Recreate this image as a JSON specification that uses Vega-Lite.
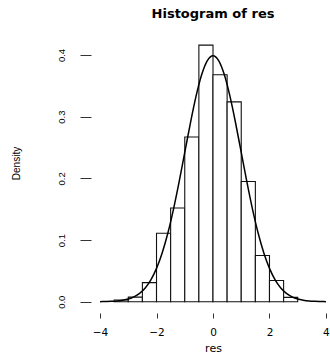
{
  "$schema": "https://vega.github.io/schema/vega-lite/v6.json",
  "autosize": {"type": "none"},
  "padding": {"left": 91, "top": 35, "right": 0, "bottom": 42},
  "width": 244,
  "height": 278,
  "background": "white",
  "config": {"view": {"stroke": null}, "font": "Liberation Sans"},
  "title": {
    "text": "Histogram of res",
    "font": "DejaVu Sans",
    "fontSize": 13,
    "fontWeight": "bold",
    "color": "black",
    "anchor": "middle",
    "frame": "group",
    "baseline": "alphabetic",
    "offset": 4
  },
  "datasets": {
    "bins": [
      {"bin_start": -3.5, "bin_end": -3.0, "density": 0.0027},
      {"bin_start": -3.0, "bin_end": -2.5, "density": 0.0075},
      {"bin_start": -2.5, "bin_end": -2.0, "density": 0.031},
      {"bin_start": -2.0, "bin_end": -1.5, "density": 0.111},
      {"bin_start": -1.5, "bin_end": -1.0, "density": 0.152},
      {"bin_start": -1.0, "bin_end": -0.5, "density": 0.267},
      {"bin_start": -0.5, "bin_end": 0.0, "density": 0.416},
      {"bin_start": 0.0, "bin_end": 0.5, "density": 0.368},
      {"bin_start": 0.5, "bin_end": 1.0, "density": 0.324},
      {"bin_start": 1.0, "bin_end": 1.5, "density": 0.195},
      {"bin_start": 1.5, "bin_end": 2.0, "density": 0.075},
      {"bin_start": 2.0, "bin_end": 2.5, "density": 0.0345},
      {"bin_start": 2.5, "bin_end": 3.0, "density": 0.007}
    ],
    "curve": [
      {"x": -4.0, "y": 0.0001}, {"x": -3.8, "y": 0.0003}, {"x": -3.6, "y": 0.0006},
      {"x": -3.4, "y": 0.0012}, {"x": -3.2, "y": 0.0024}, {"x": -3.0, "y": 0.0044},
      {"x": -2.8, "y": 0.0079}, {"x": -2.6, "y": 0.0136}, {"x": -2.4, "y": 0.0224},
      {"x": -2.2, "y": 0.0355}, {"x": -2.0, "y": 0.0540}, {"x": -1.8, "y": 0.0790},
      {"x": -1.6, "y": 0.1109}, {"x": -1.4, "y": 0.1497}, {"x": -1.2, "y": 0.1942},
      {"x": -1.0, "y": 0.2420}, {"x": -0.8, "y": 0.2897}, {"x": -0.6, "y": 0.3332},
      {"x": -0.4, "y": 0.3683}, {"x": -0.2, "y": 0.3910}, {"x": 0.0, "y": 0.3989},
      {"x": 0.2, "y": 0.3910}, {"x": 0.4, "y": 0.3683}, {"x": 0.6, "y": 0.3332},
      {"x": 0.8, "y": 0.2897}, {"x": 1.0, "y": 0.2420}, {"x": 1.2, "y": 0.1942},
      {"x": 1.4, "y": 0.1497}, {"x": 1.6, "y": 0.1109}, {"x": 1.8, "y": 0.0790},
      {"x": 2.0, "y": 0.0540}, {"x": 2.2, "y": 0.0355}, {"x": 2.4, "y": 0.0224},
      {"x": 2.6, "y": 0.0136}, {"x": 2.8, "y": 0.0079}, {"x": 3.0, "y": 0.0044},
      {"x": 3.2, "y": 0.0024}, {"x": 3.4, "y": 0.0012}, {"x": 3.6, "y": 0.0006},
      {"x": 3.8, "y": 0.0003}, {"x": 4.0, "y": 0.0001}
    ]
  },
  "layer": [
    {
      "data": {"name": "bins"},
      "mark": {"type": "rect", "fill": "white", "stroke": "#111", "strokeWidth": 1.1},
      "encoding": {
        "x": {
          "field": "bin_start", "type": "quantitative",
          "scale": {"domain": [-4.32, 4.32], "nice": false, "zero": false},
          "axis": {
            "title": "res",
            "values": [-4, -2, 0, 2, 4],
            "format": "d",
            "domain": false,
            "grid": false,
            "tickSize": 5,
            "tickColor": "#333",
            "labelFont": "DejaVu Sans",
            "labelFontSize": 10.5,
            "labelColor": "black",
            "labelBaseline": "top",
            "labelPadding": 9,
            "titleFont": "DejaVu Sans",
            "titleFontSize": 11,
            "titleFontWeight": "normal",
            "titleColor": "black",
            "titleBaseline": "alphabetic",
            "titleY": 38.5
          }
        },
        "x2": {"field": "bin_end"},
        "y": {
          "field": "density", "type": "quantitative",
          "scale": {"domain": [-0.0183, 0.4324], "nice": false, "zero": false},
          "axis": {
            "title": "Density",
            "values": [0, 0.1, 0.2, 0.3, 0.4],
            "format": ".1f",
            "domain": false,
            "grid": false,
            "tickSize": 11,
            "tickColor": "#333",
            "labelFontSize": 9.5,
            "labelColor": "black",
            "labelAngle": -90,
            "labelAlign": "center",
            "labelBaseline": "alphabetic",
            "labelPadding": 15.5,
            "titleFontSize": 10,
            "titleFontWeight": "normal",
            "titleColor": "black",
            "titleAngle": -90,
            "titleAlign": "center",
            "titleBaseline": "alphabetic",
            "titleX": -71.5,
            "titleY": 128
          }
        },
        "y2": {"datum": 0}
      }
    },
    {
      "data": {"name": "curve"},
      "mark": {"type": "line", "color": "black", "strokeWidth": 1.5, "interpolate": "monotone"},
      "encoding": {
        "x": {"field": "x", "type": "quantitative"},
        "y": {"field": "y", "type": "quantitative"}
      }
    },
    {
      "mark": {"type": "rule", "color": "#333", "strokeWidth": 1},
      "encoding": {
        "x": {"datum": -4},
        "x2": {"datum": 4},
        "y": {"datum": -0.0183}
      }
    },
    {
      "mark": {"type": "rule", "color": "#333", "strokeWidth": 1},
      "encoding": {
        "x": {"datum": -4.32},
        "y": {"datum": 0},
        "y2": {"datum": 0.4}
      }
    }
  ]
}
